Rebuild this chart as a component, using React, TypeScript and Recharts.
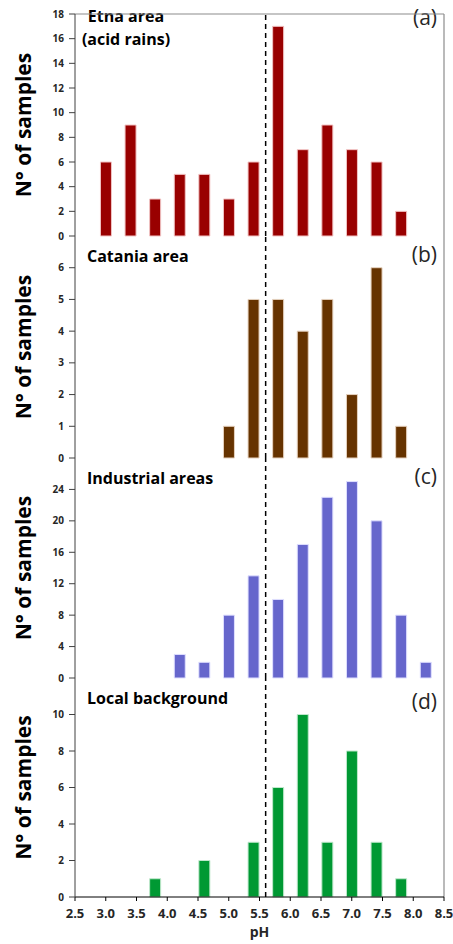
import React from 'react';
import { BarChart, Bar, XAxis, YAxis, ReferenceLine } from 'recharts';

// pH class centres (0.4 wide) and sample counts per area
const phBins = [3.0, 3.4, 3.8, 4.2, 4.6, 5.0, 5.4, 5.8, 6.2, 6.6, 7.0, 7.4, 7.8, 8.2];
const etna = [6, 9, 3, 5, 5, 3, 6, 17, 7, 9, 7, 6, 2, 0];
const catania = [0, 0, 0, 0, 0, 1, 5, 5, 4, 5, 2, 6, 1, 0];
const industrial = [0, 0, 0, 3, 2, 8, 13, 10, 17, 23, 25, 20, 8, 2];
const background = [0, 0, 1, 0, 2, 0, 3, 6, 10, 3, 8, 3, 1, 0];

const xTicks = [2.5, 3.0, 3.5, 4.0, 4.5, 5.0, 5.5, 6.0, 6.5, 7.0, 7.5, 8.0, 8.5];
const yTicksA = [0, 2, 4, 6, 8, 10, 12, 14, 16, 18];
const yTicksB = [0, 1, 2, 3, 4, 5, 6];
const yTicksC = [0, 4, 8, 12, 16, 20, 24];
const yTicksD = [0, 2, 4, 6, 8, 10];
const acidLimit = 5.6;

const toRows = (values: number[]) => phBins.map((ph, i) => ({ ph, n: values[i] }));
const rowsA = toRows(etna);
const rowsB = toRows(catania);
const rowsC = toRows(industrial);
const rowsD = toRows(background);

const FONT = '"Open Sans", sans-serif';
const W = 453;
const PAD = 8; // extra room above/below each plot so labels are not clipped

const xTickStyle = { fill: '#262626', fontSize: 13, fontWeight: 700, fontFamily: FONT };
const yTickStyle = { fill: '#262626', fontSize: 10, fontWeight: 700, fontFamily: FONT };
const fmtX = (v: number) => v.toFixed(1);
const yLabel = {
  value: 'N° of samples',
  angle: -90,
  position: 'insideLeft',
  offset: 24,
  style: { textAnchor: 'middle' },
  fill: '#000',
  fontSize: 21,
  fontWeight: 700,
  fontFamily: FONT,
};
const xLabel = { value: 'pH', position: 'insideBottom', offset: 5, fill: '#262626', fontSize: 14, fontWeight: 700, fontFamily: FONT };

type PanelProps = {
  rows: { ph: number; n: number }[];
  yMax: number;
  yTicks: number[];
  fill: string;
  edge: string;
  top: number;
  plotH: number;
  titles: string[];
  centred?: boolean;
  tag: string;
  first?: boolean;
  last?: boolean;
};

const Panel = ({ rows, yMax, yTicks, fill, edge, top, plotH, titles, centred, tag, first, last }: PanelProps) => {
  const mTop = first ? 14 : PAD;
  const xH = last ? 45 : 0;
  const mBottom = last ? 2 : PAD;
  const h = mTop + plotH + xH + mBottom;
  const boxTop = first ? 0 : top - PAD;
  // baselines measured from the panel's plot top
  const titleBase = top + (first ? 22 : 26) - boxTop;
  const tagBase = top + (first ? 26 : last ? 32 : 27) - boxTop;
  return (
    <div style={{ position: 'absolute', left: 0, top: boxTop, width: W, height: h }}>
      {titles.map((t, i) => (
        <div
          key={t}
          style={{
            position: 'absolute',
            left: centred ? 26 : 87,
            width: centred ? 200 : 250,
            top: titleBase + i * 23 - 14.2,
            textAlign: centred ? 'center' : 'left',
            fontFamily: FONT,
            fontWeight: 700,
            fontSize: 16,
            lineHeight: '16px',
            whiteSpace: 'nowrap',
            color: '#000',
          }}
        >
          {t}
        </div>
      ))}
      <div
        style={{
          position: 'absolute',
          left: 337,
          width: 100,
          top: tagBase - 18.65,
          textAlign: 'right',
          fontFamily: FONT,
          fontSize: 21,
          lineHeight: '21px',
          color: '#262626',
        }}
      >
        {tag}
      </div>
      <div style={{ position: 'absolute', left: 0, top: 0 }}>
        <BarChart width={W} height={h} data={rows} margin={{ top: mTop, right: 9, left: 0, bottom: mBottom }}>
          <XAxis
            dataKey="ph"
            type="number"
            domain={[2.5, 8.5]}
            ticks={xTicks}
            interval={0}
            height={xH}
            stroke="#000"
            tickSize={last ? 4 : 0}
            tickMargin={8}
            tick={last ? xTickStyle : false}
            tickFormatter={fmtX}
            label={last ? xLabel : undefined}
          />
          <YAxis
            domain={[0, yMax]}
            ticks={yTicks}
            interval={0}
            width={75}
            stroke="#404040"
            tickSize={6}
            tickMargin={5}
            tick={yTickStyle}
            label={yLabel}
          />
          <Bar dataKey="n" barSize={11} fill={fill} stroke={edge} strokeWidth={1} isAnimationActive={false} />
          {first && <ReferenceLine y={yMax} stroke="#8c8c8c" strokeWidth={1.2} ifOverflow="visible" />}
          <ReferenceLine x={8.5} stroke="#8c8c8c" strokeWidth={1.2} ifOverflow="visible" />
          <ReferenceLine x={acidLimit} stroke="#000" strokeWidth={1.5} strokeDasharray="5 4" />
        </BarChart>
      </div>
    </div>
  );
};

export default function App() {
  return (
    <div>
      <Panel rows={rowsA} yMax={18} yTicks={yTicksA} fill="#990000" edge="#f2c4c4" top={0} plotH={222}
        titles={['Etna area', '(acid rains)']} centred tag="(a)" first />
      <Panel rows={rowsB} yMax={7} yTicks={yTicksB} fill="#663300" edge="#e6d2bf" top={236} plotH={222}
        titles={['Catania area']} tag="(b)" />
      <Panel rows={rowsC} yMax={28} yTicks={yTicksC} fill="#6666cc" edge="#e0e0ff" top={458} plotH={220}
        titles={['Industrial areas']} tag="(c)" />
      <Panel rows={rowsD} yMax={12} yTicks={yTicksD} fill="#009933" edge="#bfe8cc" top={678} plotH={219}
        titles={['Local background']} tag="(d)" last />
    </div>
  );
}
